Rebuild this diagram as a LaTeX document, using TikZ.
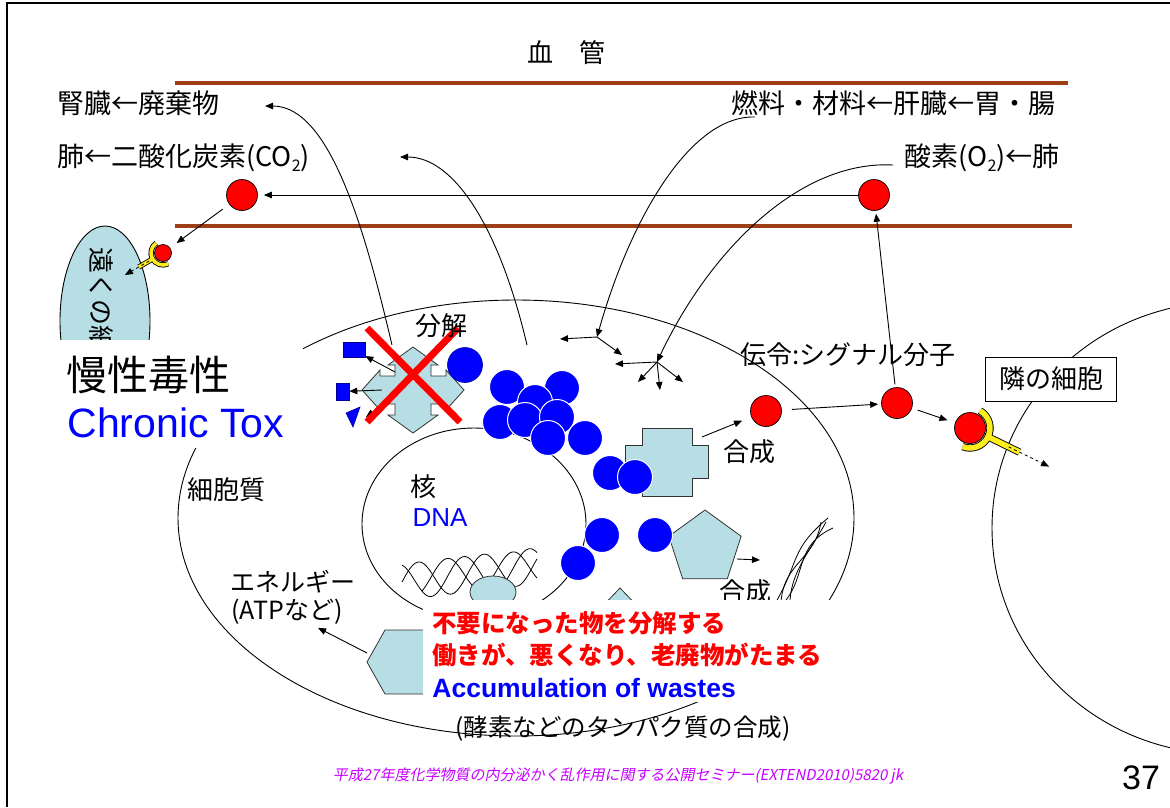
\documentclass[tikz,border=0pt]{standalone}
\usepackage{fontspec}
\setmainfont{Noto Sans CJK JP}
\newfontfamily\arialfont{Liberation Sans}
\newfontfamily\footfont[FakeSlant=0.2]{Noto Sans CJK JP}
\usetikzlibrary{arrows.meta,shapes.geometric}

\definecolor{vessel}{RGB}{158,62,22}
\definecolor{cyto}{RGB}{183,222,228}
\definecolor{recep}{RGB}{255,238,30}
\definecolor{footpink}{RGB}{200,0,255}
\definecolor{molblue}{RGB}{0,0,255}

\newcommand\lowtwo{\raisebox{-0.35ex}{\fontsize{16}{16}\selectfont 2}}

% receptor: x, y, facing angle, cup radius, stem end, signal end, band, outline
\newcommand\receptor[8]{%
  \begin{scope}[shift={(#1,#2)}]
    \foreach \col/\bw in {black/#8, recep/#7} {
      \draw[color=\col, line width=\bw pt] (#3-86:#4) arc[start angle=#3-86, end angle=#3+86, radius=#4];
      \draw[color=\col, line width=\bw pt] (#3:#4) -- (#3:#5);
    }
    \draw[->, dashed, line width=0.8pt] (#3:#5-12) -- (#3:#6);
  \end{scope}}

\begin{document}
\begin{tikzpicture}[x=1pt, y=-1pt, line width=0.9pt,
    >={Triangle[length=8pt,width=6.5pt]},
    lbl/.style={font=\fontsize{26}{30}\selectfont, inner sep=0pt},
    head/.style={font=\fontsize{27}{30}\selectfont, inner sep=0pt},
    warn/.style={font=\bfseries\fontsize{24.5}{28}\selectfont, text=red, inner sep=0pt},
    ball/.style={circle, fill=red, draw=black, line width=0.7pt, minimum size=#1, inner sep=0pt},
    ball/.default=31pt,
    mol/.style={circle, fill=molblue, draw=white, line width=1pt, minimum size=35pt, inner sep=0pt},
    organelle/.style={fill=cyto, draw=black!80, line width=0.8pt}]

  \useasboundingbox (0,0) rectangle (1170,807);
  \fill[white] (0,0) rectangle (1170,807);
  \clip (0,0) rectangle (1170,807);

  % slide frame
  \draw[line width=2pt] (7,807) -- (7,3) -- (1170,3);

  % blood vessel
  \draw[vessel, line width=4pt] (175,83) -- (1068,83);
  \draw[vessel, line width=4pt] (175,226) -- (1072,226);
  \node[lbl] (vesselname) at (566,53) {血　管};
  \node[head, anchor=west] (kidney) at (57,103) {腎臓←廃棄物};
  \node[head, anchor=west] (lungout) at (57,158) {肺←二酸化炭素(CO\lowtwo)};
  \node[head, anchor=east] (fuel) at (1056,103) {燃料・材料←肝臓←胃・腸};
  \node[head, anchor=east] (lungin) at (1060,158) {酸素(O\lowtwo)←肺};

  % far cell
  \filldraw[fill=cyto, draw=black] (105,321) ellipse [x radius=45, y radius=95];
  \node[lbl, rotate=-90, anchor=west] (farcell) at (101,247) {遠くの細胞};

  % cells and nucleus
  \draw (516,518) ellipse [x radius=338, y radius=218];
  \draw (474,524) ellipse [x radius=112, y radius=96];
  \draw (1225,528) ellipse [x radius=233, y radius=226];

  % DNA strands
  \foreach \ph in {0,110}
    \draw[line width=0.8pt, domain=0:135, samples=90, smooth] plot ({402+\x},{582-0.12*\x-18*sin(5.5*\x+\ph)});
  \draw[line width=0.8pt, domain=20:135, samples=70, smooth] plot ({402+\x},{580-0.1*\x-17*sin(5.5*\x+200)});
  \filldraw[organelle] (493,592) ellipse [x radius=23, y radius=16];

  % organelles
  \filldraw[organelle, shift={(413,390)}] (0,-43) -- (25,-25) -- (18,-25) -- (18,-14) -- (33,-14) -- (33,-20)
    -- (51,0) -- (33,20) -- (33,14) -- (18,14) -- (18,25) -- (25,25) -- (0,43) -- (-25,25) -- (-18,25)
    -- (-18,14) -- (-33,14) -- (-33,20) -- (-51,0) -- (-33,-20) -- (-33,-14) -- (-18,-14) -- (-18,-25)
    -- (-25,-25) -- cycle;
  \coordinate (quad) at (413,390);
  \filldraw[organelle] (642,428) -- (692,428) -- (692,445) -- (708,445) -- (708,478) -- (692,478)
    -- (692,496) -- (642,496) -- (642,478) -- (625,478) -- (625,445) -- (642,445) -- cycle;
  \coordinate (plusout) at (702,437);
  \node[organelle, regular polygon, regular polygon sides=5, minimum size=76pt, inner sep=0pt] (pent) at (705,548) {};
  \filldraw[organelle] (367,662) -- (385,630) -- (455,630) -- (472,662) -- (455,694) -- (385,694) -- cycle;
  \coordinate (hexout) at (367,653);
  \filldraw[organelle] (620,588) -- (645,614) -- (595,614) -- cycle;

  % filament
  \draw[line width=0.8pt] (776,602) .. controls (800,560) and (790,550) .. (828,518);
  \draw[line width=0.8pt] (781,602) .. controls (784,562) and (815,560) .. (821,522);
  \draw[line width=0.8pt] (786,600) .. controls (806,575) and (795,545) .. (833,528);
  \draw[line width=0.8pt] (790,600) .. controls (792,570) and (812,548) .. (826,522);

  % breakdown products
  \node[fill=molblue, draw=blue!60!black, line width=0.6pt, minimum width=22pt, minimum height=15pt, inner sep=0pt] (sqA) at (354,350) {};
  \node[fill=molblue, draw=blue!60!black, line width=0.6pt, minimum width=13pt, minimum height=17pt, inner sep=0pt] (sqB) at (342.5,391.5) {};
  \filldraw[fill=molblue, draw=blue!60!black, line width=0.6pt] (346,413) -- (360,407) -- (353,427) -- cycle;
  \coordinate (tri) at (366,417);
  \draw[->] (quad) ++(-18,-18) -- (sqA);
  \draw[->] (quad) ++(-31,0) -- (sqB);
  \draw[->] (quad) ++(-33,17) -- (tri);

  % molecules
  \node[mol, draw=blue!60!black, line width=0.6pt] (lone) at (465,365) {};
  \foreach \p [count=\i] in {(507,387),(562,388),(535,402),(500,422),(525,420),(557,417),(548,438),(585,438),(610,473),(635,477),(602,535),(578,563),(655,535)}
    \node[mol] (mol\i) at \p {};

  \draw[red, line width=7pt] (367,328) -- (460,422);
  \draw[red, line width=7pt] (458,328) -- (367,422);

  % signal molecules
  \receptor{163}{253}{150}{12}{28}{44}{3.5}{5.2}
  \receptor{970}{428}{26}{20}{55}{88}{5.5}{7.3}
  \node[ball] (co2) at (242,195) {};
  \node[ball] (o2) at (874,195) {};
  \node[ball=17pt] (farsig) at (163,253) {};
  \node[ball] (sig1) at (766,411) {};
  \node[ball] (sig2) at (897,403) {};
  \node[ball] (sig3) at (970,428) {};

  \draw[->, shorten >=6pt] (o2) -- (co2);
  \draw[->, shorten <=8pt, shorten >=8pt] (co2) -- (farsig);
  \draw[->, shorten <=3pt, shorten >=3pt] (sig2) -- (o2);
  \draw[->, shorten <=10pt, shorten >=3pt] (sig1) -- (sig2);
  \draw[->, shorten <=6pt, shorten >=8pt] (sig2) -- (sig3);
  \draw[->, shorten >=10pt] (plusout) -- (sig1);

  % exchange with the vessel
  \coordinate (wasteA) at (392,345);
  \coordinate (kidneyin) at (265,106);
  \coordinate (wasteB) at (527,345);
  \coordinate (lungin2) at (400,157);
  \coordinate (fuelout) at (755,117);
  \coordinate (hubA) at (597,337);
  \coordinate (oxyout) at (893,165);
  \coordinate (hubB) at (657,362);
  \draw[->] (wasteA) .. controls (365,230) and (330,106) .. (kidneyin);
  \draw[->] (wasteB) .. controls (500,230) and (455,157) .. (lungin2);
  \draw[->] (fuelout) .. controls (690,115) and (630,220) .. (hubA);
  \draw[->] (oxyout) .. controls (800,160) and (710,250) .. (hubB);
  \draw[->] (hubA) -- ++(-37,2);
  \draw[->] (hubA) -- ++(25,18);
  \draw[->] (hubB) -- ++(-42,2);
  \draw[->] (hubB) -- ++(-19,20);
  \draw[->] (hubB) -- ++(3,28);
  \draw[->] (hubB) -- ++(26,20);

  % labels in the cell
  \node[lbl] (split) at (441,326) {分解};
  \node[lbl] (nucleus) at (423,487) {核};
  \node[font=\arialfont\fontsize{26}{30}\selectfont, text=molblue, inner sep=0pt] (dna) at (440,518) {DNA};
  \node[lbl] (cytoplasm) at (226,490) {細胞質};
  \node[lbl] (make1) at (749,452) {合成};
  \node[lbl] (make2) at (745,592) {合成};
  \draw[->] (737,559) -- ++(23,1);
  \node[lbl, anchor=west] (signal) at (740,355) {伝令:シグナル分子};
  \node[lbl, draw, fill=white, line width=1pt, minimum width=131pt, minimum height=44pt] (neighbour) at (1051,379) {隣の細胞};
  \node[font=\fontsize{25}{28}\selectfont, anchor=west, inner sep=0pt] (energy) at (230,582) {エネルギー};
  \node[font=\fontsize{25}{28}\selectfont, anchor=west, inner sep=0pt] (atp) at (231,612) {(ATPなど)};
  \draw[->, shorten >=6pt] (hexout) -- (atp);

  % headline
  \fill[white] (40,340) rectangle (303,448);
  \node[font=\fontsize{41}{46}\selectfont, anchor=west, inner sep=0pt] (chronicja) at (66,375) {慢性毒性};
  \node[font=\arialfont\fontsize{41}{46}\selectfont, text=molblue, anchor=west, inner sep=0pt] (chronicen) at (67,423) {Chronic Tox};

  % note
  \fill[white] (423,600) rectangle (835,702);
  \node[warn, anchor=west] (warn1) at (432,623) {不要になった物を分解する};
  \node[warn, anchor=west] (warn2) at (432,655) {働きが、悪くなり、老廃物がたまる};
  \node[font=\arialfont\bfseries\fontsize{26.5}{30}\selectfont, text=molblue, anchor=west, inner sep=0pt] (wastes) at (432,688) {Accumulation of wastes};
  \node[font=\fontsize{24.5}{28}\selectfont, inner sep=0pt] (protein) at (623,729) {(酵素などのタンパク質の合成)};

  % footer
  \node[font=\footfont\fontsize{15}{17}\selectfont, text=footpink, inner sep=0pt] (footer) at (618,776) {平成27年度化学物質の内分泌かく乱作用に関する公開セミナー(EXTEND2010)5820 jk};
  \node[font=\arialfont\fontsize{34}{38}\selectfont, inner sep=0pt] (pagenum) at (1141,778) {37};
\end{tikzpicture}
\end{document}
